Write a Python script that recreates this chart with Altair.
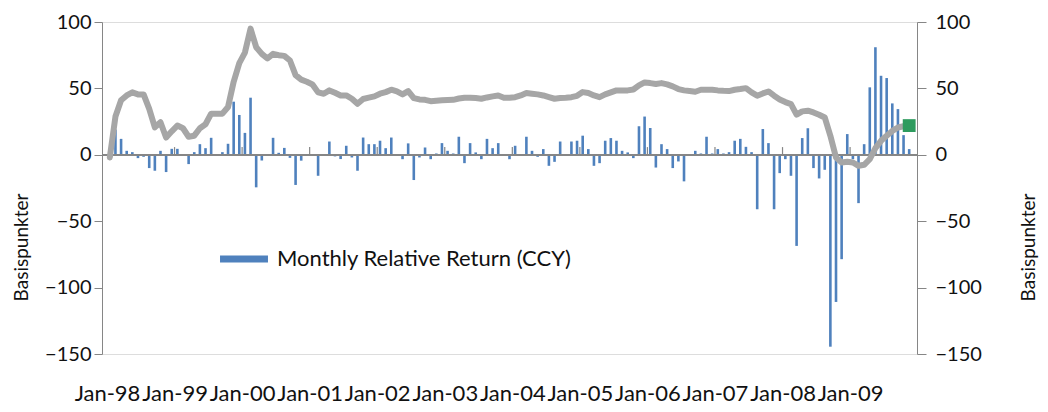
import altair as alt
import pandas as pd

# Monthly relative return (bars, left axis), Jan-98 .. Nov-09
monthly_return = [
    -1, 19, 12, 3, 2, -2.5, -1.5, -10, -12, 3, -13, 4.5,
    4.5, 0, -7, 2, 8, 5, 12.8, 0, 2, 8.3, 40, 30,
    16.5, 43, -24.5, -4.3, 0, 12.8, 1.5, 5.2, -2.3, -22.7, -4.4, 0,
    0, -15.8, 0, 10, -1.2, -3.2, 6.8, -2, -12, 13, 8, 8,
    10.6, 5, 13, 0, -3.3, 8.6, -19, -2, 5.5, -3.3, 1, 8.8,
    3, 1, 13.6, -6.3, 8.8, 1.8, -3.3, 12, 5, 8.8, 0, -3.3,
    6.8, 0, 13.6, 3, -1.5, 4.3, -8.3, -5.3, 10, 0, 10, 10.6,
    14.4, 4.3, -8.3, -6.3, 10.6, 12.6, 10.6, 3, 1.8, -2.5, 21.5, 28.8,
    20.2, -9.6, 8, 4.3, -10, -5, -20, 0, 3, 1, 13.6, 1,
    4.3, 1, 2, 10.6, 12, 6, 2, -41, 19.4, 8.8, -41, -13.8,
    -3.3, -15.8, -68.6, 12.6, 20, -10, -17.8, -11.3, -144.5, -110.8, -78.6, 15.6,
    -3.3, -36.4, 8, 50.8, 81, 59.5, 57.8, 38.7, 34.4, 14.8, 4.3,
]

# Grey line (right axis)
line_values = [
    -2, 28.8, 41, 44.7, 47, 45.5, 45.5, 34.6, 20.7, 24.5, 13, 17.7,
    22, 20, 13.6, 14.4, 20, 23, 31, 31, 31, 36, 55, 69,
    77, 95, 81, 76, 72.5, 76, 75, 74.5, 71, 60, 56.6, 55,
    53, 47, 46, 48.5, 46.7, 44.7, 44.7, 42.2, 38.4, 42, 43, 44,
    46, 47.2, 49, 47.7, 45.5, 48, 42.7, 41.7, 41.4, 40.4, 40.7, 41,
    41.2, 41.4, 42.4, 43, 43, 42.7, 42.2, 43.2, 44, 44.7, 43, 43,
    43.4, 44.7, 46.5, 46, 45.5, 44.7, 43.4, 42.2, 42.7, 43, 43.4, 44.4,
    47.2, 46.5, 44.7, 43.4, 45.5, 47, 48.5, 48.5, 48.5, 49.2, 52.3, 54.5,
    54, 53.3, 54, 53, 51.5, 49.5, 48.5, 48, 47.5, 49, 49, 49,
    48.5, 48.2, 48, 49, 49.5, 50.2, 47, 44.5, 46.2, 47.7, 44.5, 41.7,
    39.7, 38.2, 30.2, 32.7, 33.2, 31.9, 30.2, 28.1, 14.3, -2, -5.8, -5.3,
    -5.8, -8.3, -7.5, -3.3, 5, 10.5, 14.3, 18, 20.6, 21.5, 22,
]

x_labels = ["Jan-98", "Jan-99", "Jan-00", "Jan-01", "Jan-02", "Jan-03",
            "Jan-04", "Jan-05", "Jan-06", "Jan-07", "Jan-08", "Jan-09"]
year_starts = [12 * k for k in range(len(x_labels))]
y_ticks = [-150, -100, -50, 0, 50, 100]
series_name = "Monthly Relative Return (CCY)"

n = len(monthly_return)
df = pd.DataFrame({
    "i": list(range(n)),
    "ret": monthly_return,
    "val": line_values,
    "series": [series_name] * n,
})
ticks_df = pd.DataFrame({"m": year_starts[1:]})
marker_df = df.tail(1)

FONT = "Lato"
AX = "#868686"
TXT = "#111111"

xscale = alt.Scale(domain=[0, n], nice=False, zero=False)
yscale = alt.Scale(domain=[-150, 100], nice=False, zero=False)

label_js = "[" + ",".join("'%s'" % s for s in x_labels) + "][round(datum.value/12)]"

x_axis = alt.Axis(values=year_starts, labelExpr=label_js, domain=False, ticks=False,
                  grid=False, labelPadding=29, labelFontSize=22, labelFont=FONT,
                  labelColor=TXT, labelOverlap=False, labelFlush=False, labelBound=False,
                  title=None)

left_axis = alt.Axis(values=y_ticks, title="Basispunkter", grid=False, tickSize=8,
                     tickColor=AX, domainColor=AX, labelFontSize=20, labelFont=FONT,
                     labelColor=TXT, labelPadding=3, titleFontSize=19, titleFont=FONT,
                     titleFontWeight="normal", titleColor=TXT, titleAngle=270,
                     titleX=-81, titleY=225, titleBaseline="middle")

right_axis = alt.Axis(values=y_ticks, title="Basispunkter", orient="right", grid=False,
                      tickSize=9, tickColor=AX, domainColor=AX, labelFontSize=20,
                      labelFont=FONT, labelColor=TXT, labelPadding=9, titleFontSize=19,
                      titleFont=FONT, titleFontWeight="normal", titleColor=TXT,
                      titleAngle=270, titleX=111, titleY=225, titleBaseline="middle")

base = alt.Chart(df).transform_calculate(m="datum.i + 0.5")

bars = base.mark_bar(size=2.6).encode(
    x=alt.X("m:Q", scale=xscale, axis=x_axis),
    y=alt.Y("ret:Q", scale=yscale, axis=left_axis),
    color=alt.Color("series:N", scale=alt.Scale(range=["#4F81BD"]),
                    legend=alt.Legend(orient="none", legendX=118, legendY=213, title=None,
                                      symbolType="M-1,-0.15L1,-0.15L1,0.15L-1,0.15Z",
                                      symbolSize=2300, symbolStrokeWidth=0,
                                      labelFontSize=22, labelFont=FONT, labelColor=TXT,
                                      labelOffset=9, labelLimit=0, padding=0)),
)

zero_rule = alt.Chart(df).mark_rule(color=AX, strokeWidth=1.2).encode(
    y=alt.Y(datum=0, scale=yscale, axis=left_axis),
)

year_ticks = alt.Chart(ticks_df).mark_rule(color=AX, strokeWidth=1.2).encode(
    x=alt.X("m:Q", scale=xscale, axis=x_axis),
    y=alt.Y(datum=0, scale=yscale, axis=left_axis),
    y2=alt.datum(5.8),
)

left = alt.layer(bars, zero_rule, year_ticks)

line = base.mark_line(color="#A6A6A6", strokeWidth=6, strokeJoin="round",
                      strokeCap="round").encode(
    x=alt.X("m:Q", scale=xscale, axis=x_axis),
    y=alt.Y("val:Q", scale=yscale, axis=right_axis),
)

marker = alt.Chart(marker_df).transform_calculate(m="datum.i + 0.5").mark_square(
    size=165, color="#2E9B5E", opacity=1, filled=True).encode(
    x=alt.X("m:Q", scale=xscale, axis=x_axis),
    y=alt.Y("val:Q", scale=yscale, axis=right_axis),
)

right = alt.layer(line, marker)

chart = alt.layer(left, right).resolve_scale(y="independent").properties(
    width=815, height=332,
    padding={"left": 94, "top": 14, "right": 123, "bottom": 50},
    autosize=alt.AutoSizeParams(type="none"),
).configure_view(stroke=None).configure(background="white")

chart.save("out.html", embed_options={"renderer": "svg", "actions": False})
